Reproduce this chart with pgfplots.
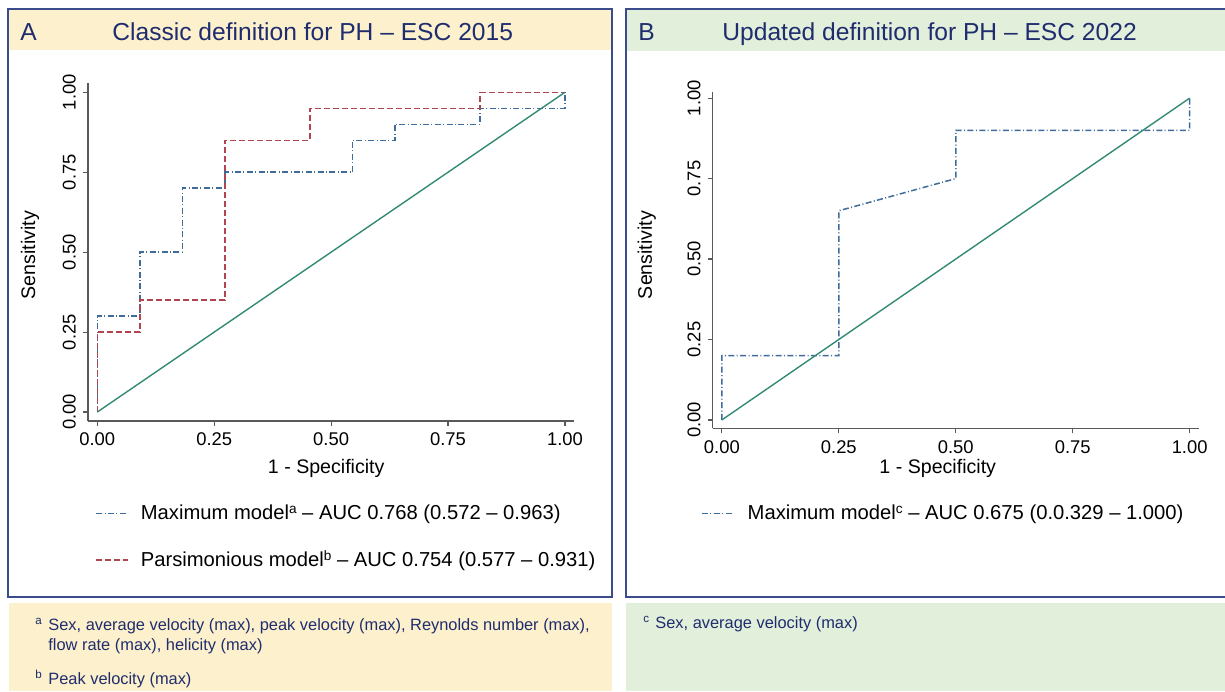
\documentclass[border=0pt]{standalone}
\usepackage{fontspec}
\setmainfont{Liberation Sans}
\usepackage{pgfplots}
\pgfplotsset{compat=1.18}

\definecolor{navy}{HTML}{1F2D6E}
\definecolor{framec}{HTML}{3A4C8C}
\definecolor{beige}{HTML}{FDF0CC}
\definecolor{mint}{HTML}{E2EFDA}
\definecolor{sblue}{HTML}{3F6C98}
\definecolor{sred}{HTML}{B0444F}
\definecolor{sgreen}{HTML}{338A74}

\newcommand{\supl}[1]{\raisebox{0.55ex}{\fontsize{6.8}{7}\selectfont #1}}

\pgfplotsset{
  rocstyle/.style={
    scale only axis,
    axis x line*=bottom, axis y line*=left,
    axis line style={-, black!65, line width=0.6pt},
    tick align=outside, major tick length=2.5pt,
    tick style={black!65, line width=0.6pt},
    xmin=-0.02, xmax=1.02,
    xtick={0,0.25,0.5,0.75,1}, ytick={0,0.25,0.5,0.75,1},
    ticklabel style={font=\fontsize{9.2}{11}\selectfont,
      /pgf/number format/assume math mode=true,
      /pgf/number format/fixed, /pgf/number format/fixed zerofill,
      /pgf/number format/precision=2},
    yticklabel style={rotate=90, anchor=south},
    label style={font=\fontsize{9.8}{12}\selectfont},
    legend cell align=left,
    legend image code/.code={\draw[#1] (0pt,0pt) -- (16pt,0pt);},
  },
  maxline/.style={sblue, line width=0.75pt, dash pattern=on 3pt off 1.2pt on 0.5pt off 1.2pt},
  parline/.style={sred, line width=0.75pt, dash pattern=on 3pt off 1.5pt},
  refline/.style={sgreen, line width=0.7pt},
}

\begin{document}
\begin{tikzpicture}
\useasboundingbox (0,0) rectangle (612.5pt,-345.5pt);
\begin{scope}[x=0.5pt,y=-0.5pt]
  \fill[beige] (9,603) rectangle (612,691);
  \fill[mint] (626,603) rectangle (1225,691);
  \fill[beige] (9,9) rectangle (612,50);
  \fill[mint] (626,9) rectangle (1230,51);
  \draw[framec, line width=1pt] (8,9) rectangle (612,597);
  \draw[framec, line width=1pt] (626,9) rectangle (1232,597);
  \node[anchor=base west, inner sep=0pt, text=navy, font=\fontsize{12.3}{14}\selectfont] at (20,40) {A};
  \node[anchor=base west, inner sep=0pt, text=navy, font=\fontsize{12.3}{14}\selectfont] at (112,40) {Classic definition for PH – ESC 2015};
  \node[anchor=base west, inner sep=0pt, text=navy, font=\fontsize{12.3}{14}\selectfont] at (638,40) {B};
  \node[anchor=base west, inner sep=0pt, text=navy, font=\fontsize{12.3}{14}\selectfont] at (722,40) {Updated definition for PH – ESC 2022};
  % footnotes
  \node[anchor=base west, inner sep=0pt, text=navy, font=\fontsize{5.8}{7}\selectfont] at (35,624) {a};
  \node[anchor=base west, inner sep=0pt, text=navy, font=\fontsize{8.2}{10}\selectfont] at (48,630) {Sex, average velocity (max), peak velocity (max), Reynolds number (max),};
  \node[anchor=base west, inner sep=0pt, text=navy, font=\fontsize{8.2}{10}\selectfont] at (48,650) {flow rate (max), helicity (max)};
  \node[anchor=base west, inner sep=0pt, text=navy, font=\fontsize{5.8}{7}\selectfont] at (35,678) {b};
  \node[anchor=base west, inner sep=0pt, text=navy, font=\fontsize{8.2}{10}\selectfont] at (48,684) {Peak velocity (max)};
  \node[anchor=base west, inner sep=0pt, text=navy, font=\fontsize{5.8}{7}\selectfont] at (643,622) {c};
  \node[anchor=base west, inner sep=0pt, text=navy, font=\fontsize{8.2}{10}\selectfont] at (655,628) {Sex, average velocity (max)};
\end{scope}

% Panel A
\begin{axis}[rocstyle,
  at={(43.95pt,-41.35pt)}, anchor=north west,
  width=243.2pt, height=169.15pt,
  ymin=-0.028, ymax=1.03,
  xlabel={1 - Specificity}, ylabel={Sensitivity},
  xlabel style={at={(axis description cs:0.49,-0.139)}, anchor=center},
  ylabel style={at={(axis description cs:-0.119,0.49)}, anchor=center},
  legend style={draw=none, fill=none, inner sep=0pt,
    at={(axis description cs:0.0146,-0.2465)}, anchor=north west,
    font=\fontsize{10.1}{12}\selectfont, row sep=14pt, column sep=6pt,
    nodes={inner sep=0pt}},
]
\addplot[maxline] coordinates {
  (0,0) (0,0.30) (0.0909,0.30) (0.0909,0.50) (0.1818,0.50) (0.1818,0.70)
  (0.2727,0.70) (0.2727,0.75) (0.5455,0.75) (0.5455,0.85) (0.6364,0.85)
  (0.6364,0.90) (0.8182,0.90) (0.8182,0.95) (1,0.95) (1,1)};
\addlegendentry{Maximum model\supl{a} – AUC 0.768 (0.572 – 0.963)}
\addplot[parline] coordinates {
  (0,0) (0,0.25) (0.0909,0.25) (0.0909,0.35) (0.2727,0.35) (0.2727,0.85)
  (0.4545,0.85) (0.4545,0.95) (0.8182,0.95) (0.8182,1) (1,1)};
\addlegendentry{Parsimonious model\supl{b} – AUC 0.754 (0.577 – 0.931)}
\addplot[refline, forget plot] coordinates {(0,0) (1,1)};
\end{axis}

% Panel B
\begin{axis}[rocstyle,
  at={(356.25pt,-45.85pt)}, anchor=north west,
  width=243.25pt, height=168.3pt,
  ymin=-0.026, ymax=1.02,
  xlabel={1 - Specificity}, ylabel={Sensitivity},
  xlabel style={at={(axis description cs:0.463,-0.118)}, anchor=center},
  ylabel style={at={(axis description cs:-0.135,0.515)}, anchor=center},
  legend style={draw=none, fill=none, inner sep=0pt,
    at={(axis description cs:-0.024,-0.226)}, anchor=north west,
    font=\fontsize{10.1}{12}\selectfont, column sep=6.5pt,
    nodes={inner sep=0pt}},
]
\addplot[maxline] coordinates {
  (0,0) (0,0.20) (0.25,0.20) (0.25,0.65) (0.5,0.75) (0.5,0.90) (1,0.90) (1,1)};
\addlegendentry{Maximum model\supl{c} – AUC 0.675 (0.0.329 – 1.000)}
\addplot[refline, forget plot] coordinates {(0,0) (1,1)};
\end{axis}
\end{tikzpicture}
\end{document}
